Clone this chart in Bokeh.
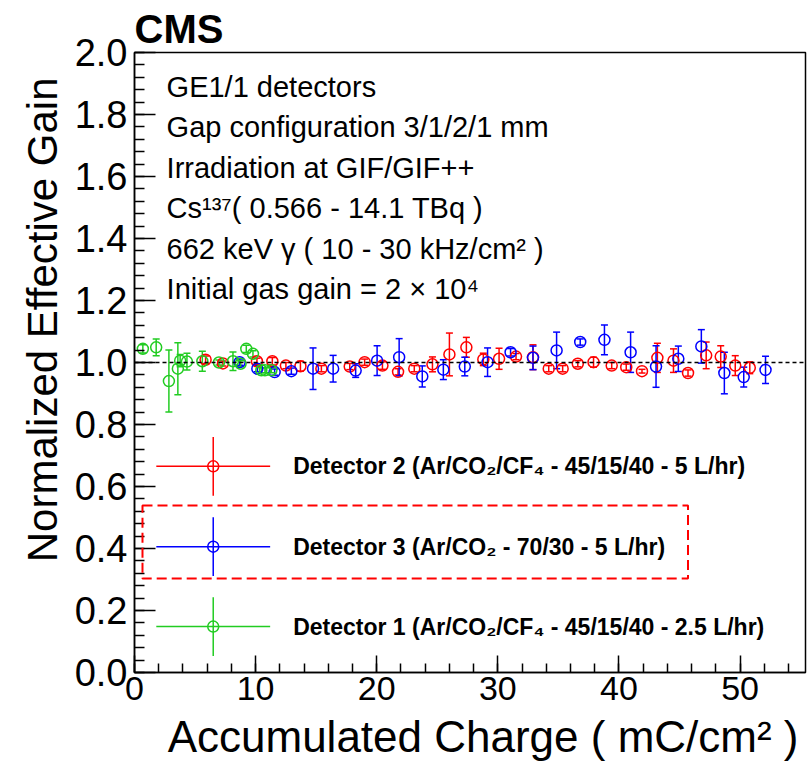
import numpy as np
from bokeh.plotting import figure
from bokeh.models import (ColumnDataSource, Whisker, TeeHead, Span, BoxAnnotation, Label,
                          Title, SingleIntervalTicker, PrintfTickFormatter, Range1d)
from bokeh.embed import file_html
from bokeh.resources import INLINE

# ---------------- data ----------------
det1_x = [0.69, 1.79, 2.84, 3.58, 3.77, 4.33, 5.60, 6.97, 8.13, 8.76, 9.23, 9.78, 10.47, 10.77, 11.30]
det1_y = [1.044, 1.049, 0.940, 0.980, 1.006, 1.003, 1.004, 1.000, 1.004, 0.996, 1.044, 1.028, 0.975, 0.975, 0.975]
det1_e = [0.013, 0.027, 0.100, 0.084, 0.020, 0.027, 0.032, 0.008, 0.030, 0.010, 0.012, 0.010, 0.008, 0.008, 0.008]

det2_x = [5.87, 7.30, 10.11, 11.38, 12.50, 13.70, 15.43, 17.77, 19.00, 20.47, 21.76, 23.10, 24.60,
          26.00, 27.40, 28.80, 30.10, 31.50, 32.90, 34.20, 35.35, 36.60, 37.90, 39.40, 40.60,
          41.90, 43.17, 44.50, 45.70, 47.20, 48.40, 49.60, 50.80]
det2_y = [1.009, 0.997, 1.004, 1.004, 0.990, 0.988, 0.980, 0.987, 1.001, 0.990, 0.970, 0.980, 0.994,
          1.026, 1.049, 1.010, 1.012, 1.019, 1.017, 0.980, 0.980, 0.996, 1.001, 0.990, 0.985,
          0.972, 1.015, 1.006, 0.966, 1.023, 1.019, 0.990, 0.983]
det2_e = [0.012, 0.008, 0.010, 0.012, 0.010, 0.016, 0.010, 0.010, 0.010, 0.012, 0.010, 0.010, 0.024,
          0.069, 0.032, 0.020, 0.034, 0.010, 0.040, 0.010, 0.010, 0.010, 0.016, 0.010, 0.010,
          0.006, 0.047, 0.038, 0.010, 0.043, 0.035, 0.032, 0.019]

det3_x = [8.68, 10.14, 11.57, 12.95, 14.74, 16.40, 18.26, 20.03, 21.85, 23.76, 25.50, 27.27, 29.15,
          31.05, 32.90, 34.85, 36.80, 38.80, 40.96, 43.06, 44.90, 46.80, 48.70, 50.30, 52.10]
det3_y = [1.001, 0.980, 0.969, 0.972, 0.980, 0.980, 0.974, 1.006, 1.017, 0.955, 0.977, 0.987, 1.001,
          1.033, 1.015, 1.039, 1.066, 1.073, 1.033, 0.987, 1.012, 1.052, 0.966, 0.953, 0.976]
det3_e = [0.010, 0.010, 0.010, 0.010, 0.067, 0.043, 0.022, 0.048, 0.060, 0.034, 0.032, 0.030, 0.046,
          0.012, 0.038, 0.059, 0.010, 0.048, 0.065, 0.067, 0.041, 0.054, 0.067, 0.032, 0.044]

legend_labels = ["Detector 2 (Ar/CO\u2082/CF\u2084 - 45/15/40 - 5 L/hr)",
                 "Detector 3 (Ar/CO\u2082 - 70/30 - 5 L/hr)",
                 "Detector 1 (Ar/CO\u2082/CF\u2084 - 45/15/40 - 2.5 L/hr)"]
info_lines = ["GE1/1 detectors",
              "Gap configuration 3/1/2/1 mm",
              "Irradiation at GIF/GIF++",
              "Cs\u00b9\u00b3\u2077( 0.566 - 14.1 TBq )",
              "662 keV \u03b3 ( 10 - 30 kHz/cm\u00b2 )",
              "Initial gas gain = 2 \u00d7 10\u2074"]
plot_title = "CMS"
x_title = "Accumulated Charge ( mC/cm\u00b2 )"
y_title = "Normalized Effective Gain"
x_ticks_interval = 10
y_ticks_interval = 0.2
x_max, y_max = 55.4, 2.0

# ---------------- styles / layout ----------------
RED, BLUE, GREEN = "#ff0000", "#0000ff", "#22cc22"
FONT = "Liberation Sans"

p = figure(width=807, height=774, x_range=Range1d(0, x_max), y_range=Range1d(0, y_max),
           output_backend="svg", toolbar_location=None,
           min_border_left=134, min_border_right=2, min_border_top=52, min_border_bottom=102)
p.background_fill_color = "white"
p.border_fill_color = "white"
p.xgrid.visible = False
p.ygrid.visible = False
p.outline_line_color = "black"
p.outline_line_width = 1.5

p.title.text = plot_title
p.title.text_font = FONT
p.title.text_font_style = "bold"
p.title.text_font_size = "40px"
p.title.text_color = "black"
p.title.align = "left"
p.title.offset = 0
p.title.standoff = 4

p.xaxis.ticker = SingleIntervalTicker(interval=x_ticks_interval, num_minor_ticks=5)
p.yaxis.ticker = SingleIntervalTicker(interval=y_ticks_interval, num_minor_ticks=5)
p.yaxis.formatter = PrintfTickFormatter(format="%.1f")
for ax in (p.xaxis[0], p.yaxis[0]):
    ax.major_tick_out = 0
    ax.minor_tick_out = 0
    ax.major_label_text_font = FONT
    ax.major_label_text_color = "black"
    ax.axis_line_color = "black"
    ax.axis_line_width = 1.5
    ax.major_tick_line_color = "black"
    ax.major_tick_line_width = 1.5
    ax.minor_tick_line_color = "black"
    ax.minor_tick_line_width = 1.5
p.xaxis.major_label_text_font_size = "34px"
p.yaxis.major_label_text_font_size = "38px"
p.yaxis.major_tick_in = 21
p.yaxis.minor_tick_in = 10
p.xaxis.major_tick_in = 17
p.xaxis.minor_tick_in = 9
p.yaxis.major_label_standoff = 7
p.xaxis.major_label_standoff = 4

yt = Title(text=y_title, align="right", offset=25, standoff=12, text_color="black",
           text_font=FONT, text_font_style="normal", text_font_size="42px")
p.add_layout(yt, "left")
xt = Title(text=x_title, align="right", offset=7, standoff=14, text_color="black",
           text_font=FONT, text_font_style="normal", text_font_size="44px")
p.add_layout(xt, "below")

# reference line at unity
p.add_layout(Span(location=1.0, dimension="width", line_color="black",
                  line_dash="4 3", line_width=1.5))

def series(xs, ys, es, color):
    xs = np.array(xs); ys = np.array(ys); es = np.array(es)
    src = ColumnDataSource(dict(x=xs, y=ys, lo=ys - es, hi=ys + es))
    w = Whisker(source=src, base="x", upper="hi", lower="lo", line_color=color, line_width=1.5,
                upper_head=TeeHead(size=7, line_color=color, line_width=1.5),
                lower_head=TeeHead(size=7, line_color=color, line_width=1.5))
    p.add_layout(w)
    p.scatter("x", "y", source=src, marker="circle", size=11, fill_color=None,
              line_color=color, line_width=1.5)

series(det2_x, det2_y, det2_e, RED)
series(det3_x, det3_y, det3_e, BLUE)
series(det1_x, det1_y, det1_e, GREEN)

# info text block
info_x = 2.65
info_top = 1.889
info_step = 0.1305
for i, t in enumerate(info_lines):
    p.add_layout(Label(x=info_x, y=info_top - i * info_step, text=t, text_font=FONT,
                       text_font_size="29px", text_baseline="alphabetic", text_color="black"))

# hand-made legend (marker with x and y bars, as in the original)
leg_x, leg_half_w, leg_half_h = 6.5, 4.7, 0.095
leg_y = [0.665, 0.406, 0.148]
leg_colors = [RED, BLUE, GREEN]
leg_text_x = 13.1
for yy, c, t in zip(leg_y, leg_colors, legend_labels):
    p.segment(x0=[leg_x - leg_half_w], y0=[yy], x1=[leg_x + leg_half_w], y1=[yy],
              line_color=c, line_width=1.5)
    p.segment(x0=[leg_x], y0=[yy - leg_half_h], x1=[leg_x], y1=[yy + leg_half_h],
              line_color=c, line_width=1.5)
    p.scatter(x=[leg_x], y=[yy], marker="circle", size=11, fill_color=None,
              line_color=c, line_width=1.5)
    p.add_layout(Label(x=leg_text_x, y=yy, text=t, text_font=FONT, text_font_style="bold",
                       text_font_size="23px", text_baseline="middle", text_color="black"))

# highlight box around Detector 3
p.add_layout(BoxAnnotation(left=0.66, right=45.7, bottom=0.303, top=0.539,
                           fill_alpha=0, line_color=RED, line_alpha=1.0,
                           line_dash="10 5", line_width=2))

open("out.html", "w").write(file_html(p, INLINE))
